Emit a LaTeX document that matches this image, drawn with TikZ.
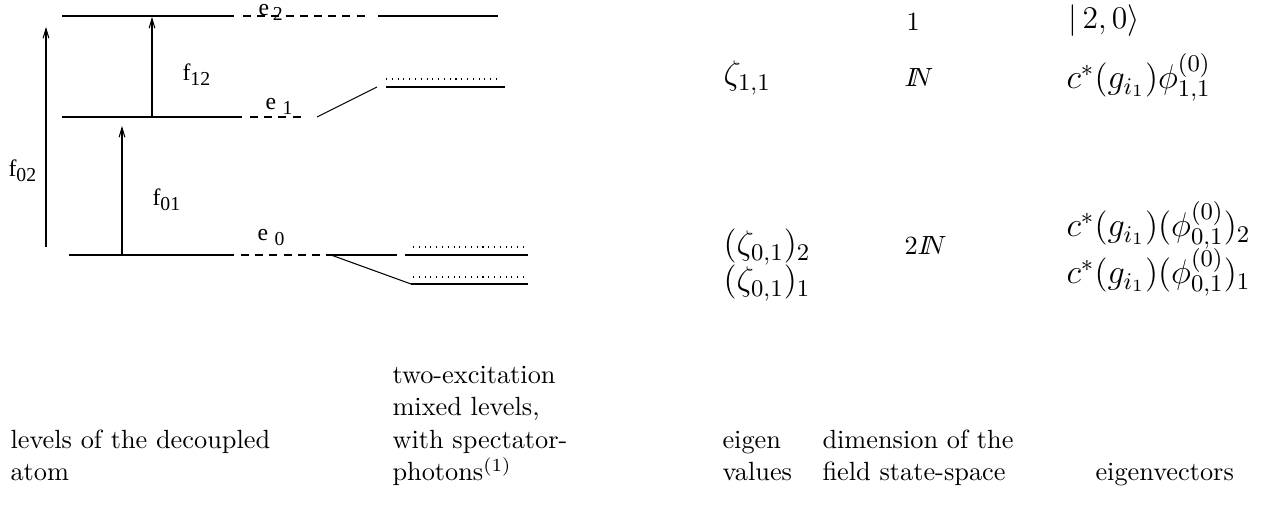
\RequirePackage{fix-cm}
\documentclass[tikz,border=0pt]{standalone}
\usepackage{fontspec}
\newfontfamily\lvlfont{Liberation Serif}
\usetikzlibrary{arrows.meta}
\newcommand{\lsub}[1]{\raisebox{-0.45ex}{\fontsize{7.5}{8}\selectfont #1}}
\newcommand{\IN}{I\!\!N}

\begin{document}
\begin{tikzpicture}[
	x=0.38pt, y=-0.38pt,
	level/.style={line width=0.6pt},
	gap_line/.style={line width=0.4pt, dash pattern=on 3pt off 2.4pt},
	dot_line/.style={line width=0.45pt, dash pattern=on 0.4pt off 1.8pt},
	shift_line/.style={line width=0.4pt},
	trans/.style={line width=0.4pt, -{Straight Barb[length=3.6pt,width=2.2pt]}},
	lvl_label/.style={font=\lvlfont\fontsize{9}{10}\selectfont, inner sep=0pt, anchor=base west},
	math_col/.style={font=\fontsize{13}{15}\selectfont, inner sep=0pt, anchor=base west},
	dim_col/.style={font=\fontsize{10}{12}\selectfont, inner sep=0pt, anchor=base west},
	caption/.style={font=\fontsize{10}{12.4}\selectfont, align=left, inner sep=0pt, anchor=base west}
	]

	\useasboundingbox (0,0) rectangle (1273,506);

	% Levels of the decoupled atom
	\coordinate (e2_a) at (62,16);   \coordinate (e2_b) at (234,16);
	\coordinate (e1_a) at (62,117);  \coordinate (e1_b) at (242,117);
	\coordinate (e0_a) at (69,255);  \coordinate (e0_b) at (234,255);
	\draw[level] (e2_a) -- (e2_b);
	\draw[level] (e1_a) -- (e1_b);
	\draw[level] (e0_a) -- (e0_b);

	% Dashed continuations
	\coordinate (e2_c) at (243,16);  \coordinate (e2_d) at (370,16);
	\coordinate (e1_c) at (250,117); \coordinate (e1_d) at (304,117);
	\coordinate (e0_c) at (241,255); \coordinate (e0_d) at (331,255);
	\draw[gap_line] (e2_c) -- (e2_d);
	\draw[gap_line] (e1_c) -- (e1_d);
	\draw[gap_line] (e0_c) -- (e0_d);

	\node[lvl_label] (e2_lbl) at (258,16) {e\,\lsub{2}};
	\node[lvl_label] (e1_lbl) at (265,110) {e\;\lsub{1}};
	\node[lvl_label] (e0_lbl) at (257,241) {e\;\lsub{0}};

	% Transitions
	\coordinate (f12_s) at (152,117); \coordinate (f12_t) at (152,17);
	\coordinate (f01_s) at (122,255); \coordinate (f01_t) at (122,126);
	\coordinate (f02_s) at (46,247);  \coordinate (f02_t) at (46,27);
	\draw[trans] (f12_s) -- (f12_t);
	\draw[trans] (f01_s) -- (f01_t);
	\draw[trans] (f02_s) -- (f02_t);

	\node[lvl_label] (f12_lbl) at (182,81) {f\lsub{12}};
	\node[lvl_label] (f01_lbl) at (152,206) {f\lsub{01}};
	\node[lvl_label] (f02_lbl) at (8,177) {f\lsub{02}};

	% Two-excitation mixed levels
	\coordinate (m2_a) at (378,16);  \coordinate (m2_b) at (498,16);
	\draw[level] (m2_a) -- (m2_b);

	\coordinate (m1_s) at (317,117); \coordinate (m1_a) at (377,87);
	\coordinate (m1_b) at (386,87);  \coordinate (m1_c) at (505,87);
	\coordinate (m1_d) at (386,79);  \coordinate (m1_e) at (498,79);
	\draw[shift_line] (m1_s) -- (m1_a);
	\draw[level] (m1_b) -- (m1_c);
	\draw[dot_line] (m1_d) -- (m1_e);

	\coordinate (m0_s) at (331,255); \coordinate (m0_k) at (397,255);
	\coordinate (m0_a) at (405,255); \coordinate (m0_b) at (528,255);
	\coordinate (m0_c) at (411,284); \coordinate (m0_d) at (528,284);
	\draw[shift_line] (m0_s) -- (m0_k);
	\draw[shift_line] (m0_s) -- (m0_c);
	\draw[level] (m0_a) -- (m0_b);
	\draw[level] (m0_c) -- (m0_d);
	\draw[dot_line] (413,247) -- (526,247);
	\draw[dot_line] (413,277) -- (526,277);

	% Eigenvalues, dimensions, eigenvectors
	\node[math_col] (zeta11) at (723,85) {$\zeta_{1,1}$};
	\node[math_col] (zeta2) at (723,255) {$(\zeta_{0,1})_2$};
	\node[math_col] (zeta1) at (723,291) {$(\zeta_{0,1})_1$};

	\node[dim_col] (dim_top) at (906,31) {1};
	\node[dim_col] (dim11) at (904,87) {$\IN$};
	\node[dim_col] (dim01) at (904,255) {$2\IN$};

	\node[math_col, font=\fontsize{12}{14}\selectfont] (ket) at (1068,29) {$|\,2,0\rangle$};
	\node[math_col] (vec11) at (1066,89) {$c^*(g_{i_1})\phi^{(0)}_{1,1}$};
	\node[math_col] (vec2) at (1066,237) {$c^*(g_{i_1})(\phi^{(0)}_{0,1})_2$};
	\node[math_col] (vec1) at (1066,284) {$c^*(g_{i_1})(\phi^{(0)}_{0,1})_1$};

	% Column captions
	\node[caption] (atom_cap) at (10,481) {levels of the decoupled\\atom};
	\node[caption] (mix_cap) at (392,481) {two-excitation\\mixed levels,\\with spectator-\\photons$^{(1)}$};
	\node[caption] (eig_cap) at (722,481) {eigen\\values};
	\node[caption] (dim_cap) at (822,481) {dimension of the\\field state-space};
	\node[caption] (vec_cap) at (1095,481) {eigenvectors};

\end{tikzpicture}
\end{document}
